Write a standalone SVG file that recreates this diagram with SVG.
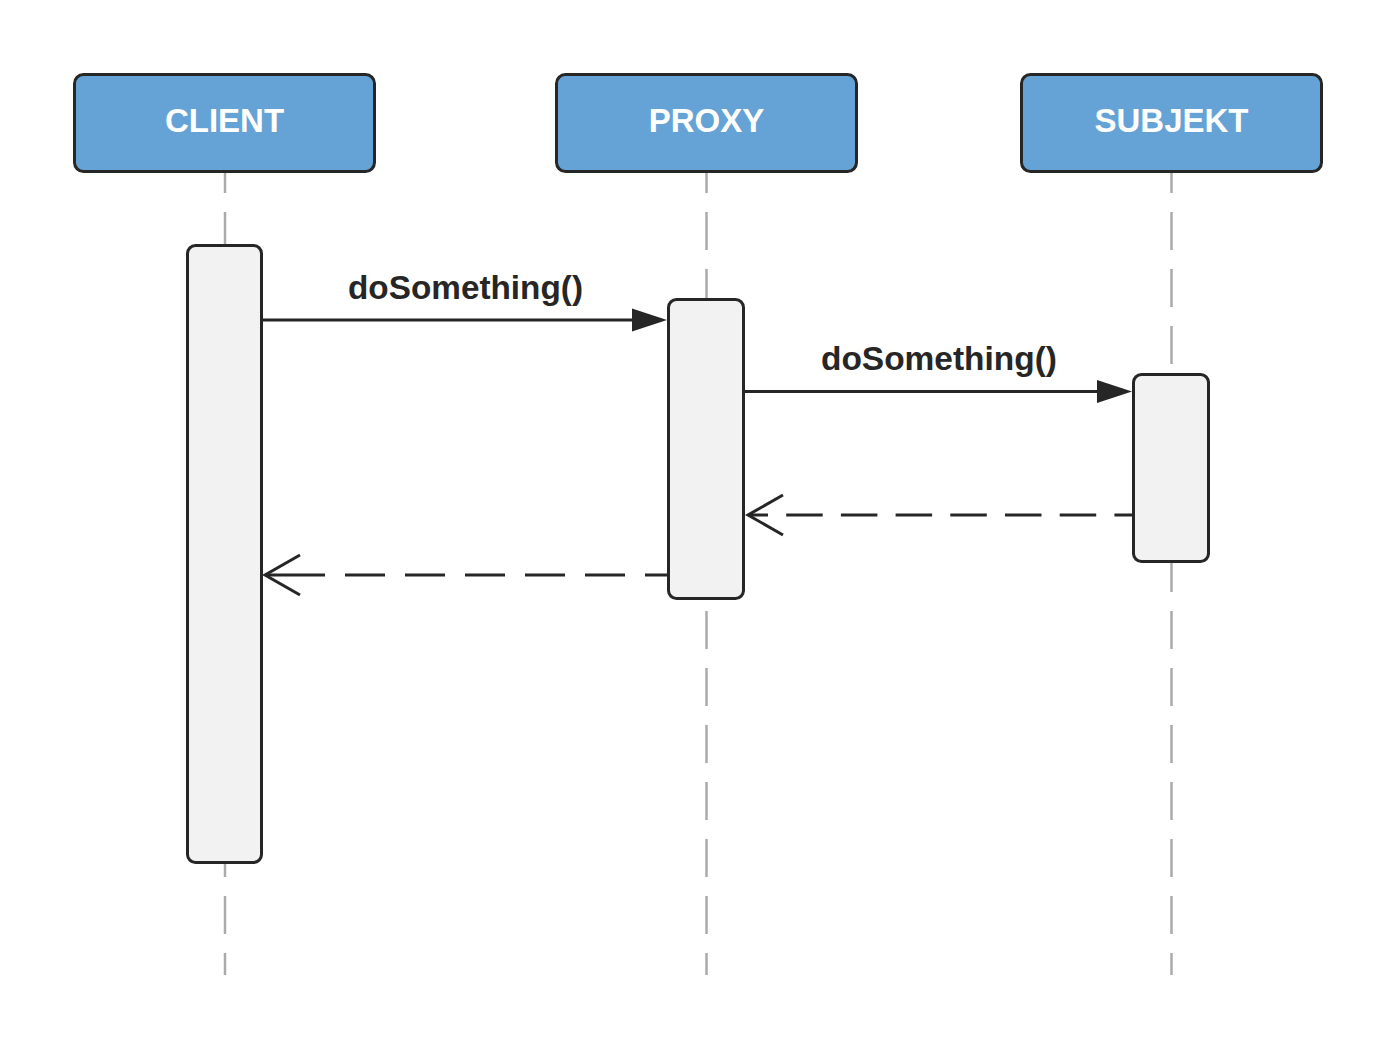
<svg xmlns="http://www.w3.org/2000/svg" width="1397" height="1050" viewBox="0 0 1397 1050">
  <style>
    .head { fill: #65a3d6; stroke: #262626; stroke-width: 3; }
    .headtxt { font-family: "Liberation Sans", Arial, sans-serif; font-weight: bold; font-size: 33px; fill: #ffffff; text-anchor: middle; }
    .life { stroke: #aaaaaa; stroke-width: 2.5; stroke-dasharray: 38 19; fill: none; }
    .act { fill: #f2f2f2; stroke: #262626; stroke-width: 3; }
    .msg { stroke: #262626; stroke-width: 3; fill: none; }
    .ret { stroke: #262626; stroke-width: 3; fill: none; }
    .head-arrow { fill: #262626; stroke: none; }
    .open-arrow { stroke: #262626; stroke-width: 3; fill: none; stroke-linecap: butt; }
    .lbl { font-family: "Liberation Sans", Arial, sans-serif; font-weight: bold; font-size: 34px; fill: #262626; text-anchor: middle; }
  </style>
  <rect width="1397" height="1050" fill="#ffffff"/>
  <g id="lifelines">
    <line class="life" x1="225" y1="155" x2="225" y2="975"/>
    <line class="life" x1="706.5" y1="155" x2="706.5" y2="975"/>
    <line class="life" x1="1171.5" y1="155" x2="1171.5" y2="975"/>
  </g>
  <g id="client">
    <rect class="head" x="74.5" y="74.5" width="300" height="97" rx="9"/>
    <text class="headtxt" x="224.5" y="132">CLIENT</text>
  </g>
  <g id="proxy">
    <rect class="head" x="556.5" y="74.5" width="300" height="97" rx="9"/>
    <text class="headtxt" x="706.5" y="132">PROXY</text>
  </g>
  <g id="subjekt">
    <rect class="head" x="1021.5" y="74.5" width="300" height="97" rx="9"/>
    <text class="headtxt" x="1171.5" y="132">SUBJEKT</text>
  </g>
  <g id="client-activation">
    <rect class="act" x="187.5" y="245.5" width="74" height="617" rx="8"/>
  </g>
  <g id="proxy-activation">
    <rect class="act" x="668.5" y="299.5" width="75" height="299" rx="8"/>
  </g>
  <g id="subjekt-activation">
    <rect class="act" x="1133.5" y="374.5" width="75" height="187" rx="8"/>
  </g>
  <g id="connectors">
    <path class="msg" d="M263 320 H634"/>
    <polygon class="head-arrow" points="632,308.5 667,320 632,331.5"/>
    <path class="msg" d="M745 391.5 H1099"/>
    <polygon class="head-arrow" points="1097,380 1132,391.5 1097,403"/>
    <path class="ret" d="M748 515 H1133" stroke-dasharray="20 18.2 36.5 18.2 36.5 18.2 36.5 18.2 36.5 18.2 36.5 18.2 36.5 18.2 40"/>
    <polyline class="open-arrow" points="783,495 748,515 783,535"/>
    <path class="ret" d="M265 575 H669" stroke-dasharray="60 20 40 20 40 20 40 20 40 20 40 20 40 20 40"/>
    <polyline class="open-arrow" points="300,555 265,575 300,595"/>
  </g>
  <g id="labels">
    <text class="lbl" x="465.5" y="299" textLength="235" lengthAdjust="spacingAndGlyphs">doSomething()</text>
    <text class="lbl" x="939" y="370" textLength="236" lengthAdjust="spacingAndGlyphs">doSomething()</text>
  </g>
</svg>
